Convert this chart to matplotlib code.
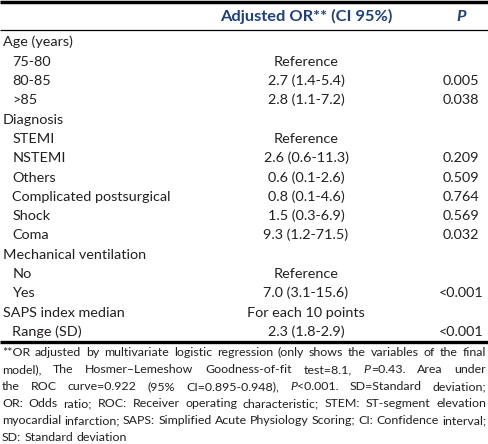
import matplotlib
matplotlib.use("Agg")
import matplotlib.pyplot as plt

# ---------------- data ----------------
row_labels = ["Age (years)", "75-80", "80-85", ">85",
              "Diagnosis", "STEMI", "NSTEMI", "Others", "Complicated postsurgical", "Shock", "Coma",
              "Mechanical ventilation", "No", "Yes",
              "SAPS index median", "Range (SD)"]
row_indent = [0, 1, 1, 1, 0, 1, 1, 1, 1, 1, 1, 0, 1, 1, 0, 1]
or_values = ["", "Reference", "2.7 (1.4-5.4)", "2.8 (1.1-7.2)",
             "", "Reference", "2.6 (0.6-11.3)", "0.6 (0.1-2.6)", "0.8 (0.1-4.6)", "1.5 (0.3-6.9)", "9.3 (1.2-71.5)",
             "", "Reference", "7.0 (3.1-15.6)",
             "For each 10 points", "2.3 (1.8-2.9)"]
p_values = ["", "", "0.005", "0.038",
            "", "", "0.209", "0.509", "0.764", "0.569", "0.032",
            "", "", "<0.001",
            "", "<0.001"]
header_or = "Adjusted OR** (CI 95%)"
header_p = "P"

# footnote lines (|...| marks italic runs)
footnote_lines = [
    "**OR adjusted by multivariate logistic regression (only shows the variables of the final",
    "model), The Hosmer\u2013Lemeshow Goodness-of-fit test=8.1, |P|=0.43. Area under",
    "the ROC curve=0.922 (95% CI=0.895-0.948), |P|<0.001. SD=Standard deviation;",
    "OR: Odds ratio; ROC: Receiver operating characteristic; STEM: ST-segment elevation",
    "myocardial infarction; SAPS: Simplified Acute Physiology Scoring; CI: Confidence interval;",
    "SD: Standard deviation",
]

# ---------------- layout ----------------
W, H = 488, 444
FONT = "Lato"
FS = 10.4
FS_HEAD = 11.8
NAVY = "#1d3f7c"
TXT = "#231f20"

fig = plt.figure(figsize=(W / 100, H / 100), dpi=100)
ax = fig.add_axes([0, 0, 1, 1])
ax.set_xlim(0, W)
ax.set_ylim(H, 0)
ax.axis("off")

# rules
ax.plot([0, W], [1.6, 1.6], color="black", lw=2.5, solid_capstyle="butt")
ax.plot([0, W], [30.0, 30.0], color="black", lw=0.9, solid_capstyle="butt")
ax.plot([0, W], [341.8, 341.8], color="black", lw=2.4, solid_capstyle="butt")

BOFF = 4.6  # baseline offset below visual centre

# header
x_or, x_p = 306, 461
ax.text(x_or, 15.5 + BOFF * FS_HEAD / FS, header_or, ha="center", va="baseline", fontsize=FS_HEAD,
        fontweight="bold", family=FONT, color=NAVY)
ax.text(x_p, 15.5 + BOFF * FS_HEAD / FS, header_p, ha="center", va="baseline", fontsize=FS_HEAD,
        fontweight="bold", style="italic", family=FONT, color=NAVY)

# rows
y0, dy = 41.8, 19.3
for i, lab in enumerate(row_labels):
    y = y0 + i * dy + BOFF
    ax.text(3 + 9.5 * row_indent[i], y, lab, ha="left", va="baseline", fontsize=FS, family=FONT, color=TXT)
    if or_values[i]:
        ax.text(x_or, y, or_values[i], ha="center", va="baseline", fontsize=FS, family=FONT, color=TXT)
    if p_values[i]:
        ax.text(x_p, y, p_values[i], ha="center", va="baseline", fontsize=FS, family=FONT, color=TXT)

# justified footnote
fig.canvas.draw()
renderer = fig.canvas.get_renderer()


def parse_word(w):
    parts = w.split("|")
    return [(p, k % 2 == 1) for k, p in enumerate(parts) if p]


def run_width(text, italic, fs):
    t = ax.text(0, 0, text, fontsize=fs, family=FONT, style="italic" if italic else "normal")
    bb = t.get_window_extent(renderer)
    t.remove()
    return bb.width


left, right = 2.0, 486.0

# pick the largest footnote size where every justified line keeps a sensible gap
fs_note = 10.0
while fs_note > 7:
    sp = run_width("a a", False, fs_note) - run_width("aa", False, fs_note)
    ok = True
    for line in footnote_lines[:-1]:
        words = [parse_word(w) for w in line.split(" ")]
        total = sum(run_width(t, it, fs_note) for wd in words for t, it in wd)
        gap = (right - left - total) / (len(words) - 1)
        if gap < 0.85 * sp:
            ok = False
            break
    if ok:
        break
    fs_note -= 0.1

ny0, ndy = 352.5, 16.9
nboff = BOFF * fs_note / FS
space_w = run_width("a a", False, fs_note) - run_width("aa", False, fs_note)
for li, line in enumerate(footnote_lines):
    y = ny0 + li * ndy + nboff
    words = [parse_word(w) for w in line.split(" ")]
    widths = [[run_width(t, it, fs_note) for t, it in wd] for wd in words]
    total = sum(sum(ws) for ws in widths)
    last = li == len(footnote_lines) - 1
    gap = space_w if last else (right - left - total) / (len(words) - 1)
    x = left
    for wd, ws in zip(words, widths):
        for (t, it), w in zip(wd, ws):
            ax.text(x, y, t, ha="left", va="baseline", fontsize=fs_note, family=FONT,
                    style="italic" if it else "normal", color=TXT)
            x += w
        x += gap

fig.savefig("out.png", dpi=100)
